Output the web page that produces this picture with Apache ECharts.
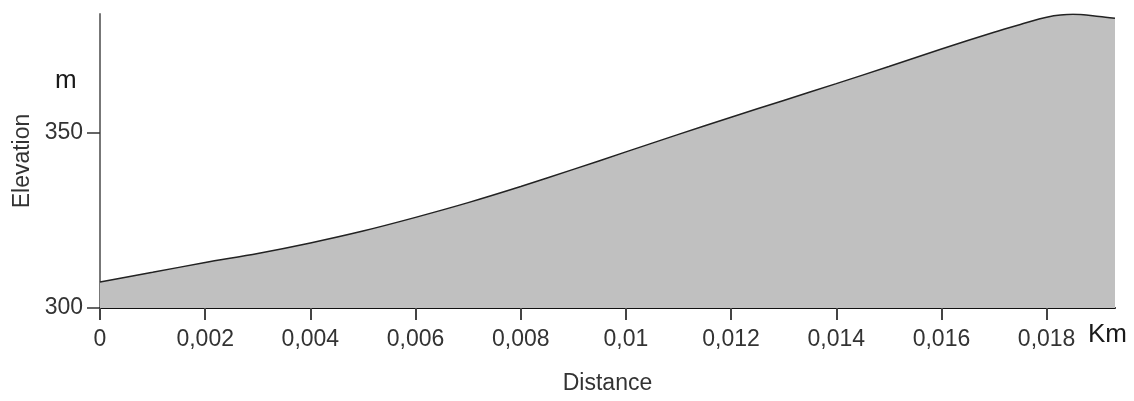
<!DOCTYPE html>
<html>
<head>
<meta charset="utf-8">
<script src="https://cdn.jsdelivr.net/npm/echarts@6/dist/echarts.min.js"></script>
<style>
html,body{margin:0;padding:0;background:#fff;}
#c{width:1134px;height:401px;}
</style>
</head>
<body>
<div id="c"></div>
<script>
// Distance along profile (km)
const distances = [0, 0.001, 0.002, 0.003, 0.004, 0.005, 0.006, 0.007, 0.008, 0.009, 0.010, 0.011, 0.012, 0.013, 0.014, 0.015, 0.016, 0.017, 0.0175, 0.018, 0.0185, 0.019, 0.0193];
// Elevation (m)
const elevations = [307.4, 310.2, 313.0, 315.6, 318.6, 322.0, 325.9, 330.1, 334.7, 339.6, 344.6, 349.6, 354.5, 359.3, 364.1, 369.0, 374.0, 378.8, 381.0, 383.1, 383.9, 383.3, 382.8];
const xTicks = [0, 0.002, 0.004, 0.006, 0.008, 0.010, 0.012, 0.014, 0.016, 0.018];
const yTicks = [300, 350];

const chart = echarts.init(document.getElementById('c'), null, {renderer: 'canvas'});
const fontFamily = '"Liberation Sans", Arial, sans-serif';
const fmt = v => String(+(+v).toFixed(4)).replace('.', ',');

chart.setOption({
  animation: false,
  backgroundColor: '#ffffff',
  grid: {left: 100, right: 19, top: 14, bottom: 93, containLabel: false},
  xAxis: {
    type: 'value',
    min: 0,
    max: 0.0193,
    interval: 0.002,
    name: 'Distance',
    nameLocation: 'middle',
    nameGap: 64,
    nameTextStyle: {fontFamily, fontSize: 23, color: '#333'},
    axisLine: {show: true, lineStyle: {color: '#111', width: 2}},
    axisTick: {show: true, inside: false, length: 12, customValues: xTicks, lineStyle: {color: '#444', width: 2}},
    axisLabel: {show: true, margin: 20, customValues: xTicks, formatter: fmt, fontFamily, fontSize: 23, color: '#333'},
    splitLine: {show: false}
  },
  yAxis: {
    type: 'value',
    min: 300,
    max: 384,
    interval: 50,
    name: 'Elevation',
    nameLocation: 'middle',
    nameGap: 66,
    nameTextStyle: {fontFamily, fontSize: 23, color: '#333'},
    axisLine: {show: true, lineStyle: {color: '#777', width: 2}},
    axisTick: {show: true, length: 13, customValues: yTicks, lineStyle: {color: '#333', width: 1.5}},
    axisLabel: {show: true, margin: 17, customValues: yTicks, fontFamily, fontSize: 23, color: '#333'},
    splitLine: {show: false}
  },
  graphic: [
    {type: 'text', left: 55, top: 68, style: {text: 'm', fontFamily, fontSize: 26, fill: '#1a1a1a'}},
    {type: 'text', left: 1088, top: 322, style: {text: 'Km', fontFamily, fontSize: 26, fill: '#1a1a1a'}}
  ],
  series: [{
    type: 'line',
    data: distances.map((d, i) => [d, elevations[i]]),
    smooth: 0.3,
    showSymbol: false,
    lineStyle: {color: '#222', width: 1.5},
    areaStyle: {color: '#c0c0c0', opacity: 1, origin: 'start'},
    z: 1
  }]
});
</script>
</body>
</html>
